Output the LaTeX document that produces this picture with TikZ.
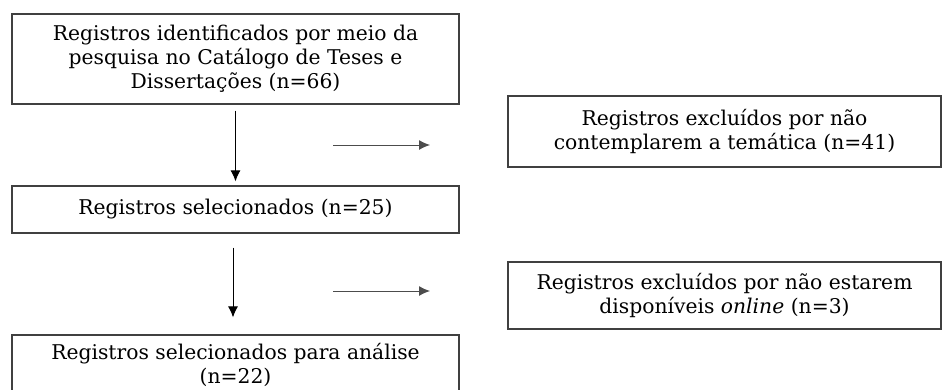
\documentclass[tikz,border=0pt]{standalone}
\usepackage{fontspec}
\setmainfont{DejaVu Serif}
\usetikzlibrary{arrows.meta}

\begin{document}
\begin{tikzpicture}[x=1pt,y=-1pt,
    caixa/.style={draw=black!75, line width=1.2pt, align=center, inner sep=0pt,
      font=\fontsize{20.3}{24}\selectfont},
    seta/.style={line width=1pt, -{Latex[length=11pt,width=10pt]}}]
    \useasboundingbox (0,0) rectangle (944,389);
    % coluna da esquerda
    \node[caixa, minimum width=447pt, minimum height=90pt] (ident) at (235.5,59)
        {Registros identificados por meio da\\pesquisa no Catálogo de Teses e\\Dissertações (n=66)};
    \node[caixa, minimum width=447pt, minimum height=47pt] (selec) at (235.5,209.5)
        {Registros selecionados (n=25)};
    \node[caixa, minimum width=447pt, minimum height=60pt] (anali) at (235.5,365)
        {Registros selecionados para análise\\(n=22)};
    % coluna da direita
    \node[caixa, minimum width=433pt, minimum height=71pt] (excl1) at (724.5,131.5)
        {Registros excluídos por não\\contemplarem a temática (n=41)};
    \node[caixa, minimum width=433pt, minimum height=67pt] (excl2) at (724.5,295.5)
        {Registros excluídos por não estarem\\disponíveis \textit{online} (n=3)};
    % setas
    \draw[seta, shorten <=6pt, shorten >=4pt] (ident.south) -- (selec.north);
    \draw[seta, shorten <=14pt, shorten >=17pt] (selec.south -| 233,0) -- (anali.north -| 233,0);
    \coordinate (h1a) at (333,145);
    \coordinate (h1b) at (430,145);
    \coordinate (h2a) at (333,291);
    \coordinate (h2b) at (430,291);
    \draw[seta, draw=black!70] (h1a) -- (h1b);
    \draw[seta, draw=black!70] (h2a) -- (h2b);
\end{tikzpicture}
\end{document}
